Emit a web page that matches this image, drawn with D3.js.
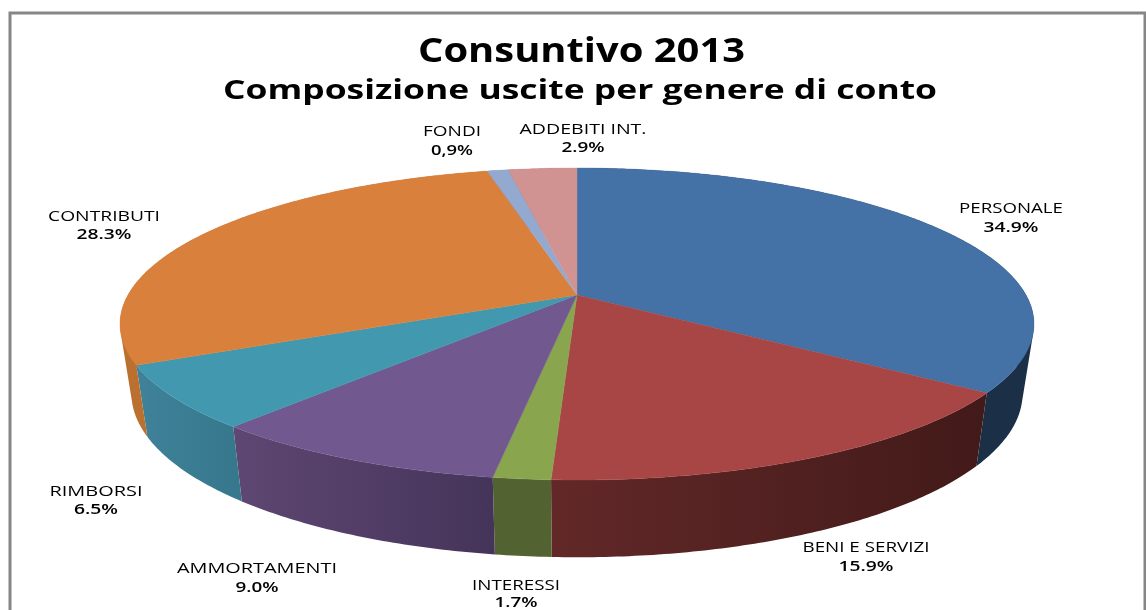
<!DOCTYPE html>
<html><head><meta charset="utf-8">
<script src="https://cdn.jsdelivr.net/npm/d3@7"></script>
<style>html,body{margin:0;padding:0;background:#fff;overflow:hidden}svg{display:block}text{font-family:"Open Sans",sans-serif;fill:#000}</style>
</head><body><svg id="c" width="1146" height="610"></svg>
<script>
const categories = ["PERSONALE","BENI E SERVIZI","INTERESSI","AMMORTAMENTI","RIMBORSI","CONTRIBUTI","FONDI","ADDEBITI INT."];
const values = [34.9,15.9,1.7,9.0,6.5,28.3,0.9,2.9];
const valueLabels = ["34.9%","15.9%","1.7%","9.0%","6.5%","28.3%","0,9%","2.9%"];
const topColors = ["#4471A6","#A74644","#89A54E","#71588F","#4198AF","#D9813C","#93A9CF","#D19392"];
const wallLeft = ["#1B2F47","#622828","#526231","#5E4772","#3F8299","#BC7030","#6f80a0","#9e6f6e"];
const wallRight = ["#1B2F47","#421A19","#526231","#45345A","#36778C","#BC7030","#6f80a0","#9e6f6e"];
const titleText = "Consuntivo 2013";
const subtitleText = "Composizione uscite per genere di conto";
// layout only: label centre x, name baseline, value baseline, name width, value width
const labelLayout = [
 [1011,213,232,104,55],[866,552,571,127,55],[516,590,607,88,43],[257,573,592,160,43],
 [96,496,514,93,44],[104,221,239,112,55],[452,136,155,58,42],[583,134,152,127,43]
];
const svg = d3.select("#c"), defs = svg.append("defs");
defs.append("filter").attr("id","soft").attr("x","-5%").attr("y","-20%").attr("width","110%").attr("height","140%")
  .append("feGaussianBlur").attr("stdDeviation",0.4);
// projection of the pie disc (perspective): apex, half-axes, foreshortening
const cx=577, cy=295, ax=449, by=150.6, k=0.186;
const project = a => { const u=Math.sin(a), v=-Math.cos(a), d=1-k*v; return [ax*u/d, by*v/d]; };
const topPt = ([x,y]) => [cx+x, cy+y];
const bottomPt = ([x,y]) => [cx+x*0.975, cy+y*1.05+68];
const slices = d3.pie().sort(null).value(d=>d).startAngle(0).endAngle(2*Math.PI)(values);
const lineGen = d3.line().curve(d3.curveLinear);
const rim = s => { const n=Math.max(2,Math.ceil((s.endAngle-s.startAngle)*90));
  return d3.range(n+1).map(i=>project(s.startAngle+(s.endAngle-s.startAngle)*i/n)); };

// frame
svg.append("rect").attr("x",10).attr("y",13).attr("width",1135).attr("height",620)
  .attr("fill","none").attr("stroke","#868686").attr("stroke-width",3);

// side walls: one path of same-winding quads, so the silhouette is filled without seams
slices.forEach((s,i)=>{
  const r=rim(s), xs=r.map(topPt).concat(r.map(bottomPt)).map(p=>p[0]);
  const g=defs.append("linearGradient").attr("id","w"+i).attr("gradientUnits","userSpaceOnUse")
    .attr("x1",d3.min(xs)).attr("x2",d3.max(xs)).attr("y1",0).attr("y2",0);
  g.append("stop").attr("offset",0).attr("stop-color",wallLeft[i]);
  g.append("stop").attr("offset",1).attr("stop-color",wallRight[i]);
  const d=d3.pairs(r).map(([a,b])=>{
    const q=[topPt(a),topPt(b),bottomPt(b),bottomPt(a)];
    if(d3.polygonArea(q)<0) q.reverse();
    return lineGen(q)+"Z";
  }).join("");
  svg.append("path").attr("d",d).attr("fill",`url(#w${i})`).attr("fill-rule","nonzero");
});
// top faces
slices.forEach((s,i)=>{
  const pts=[[cx,cy]].concat(rim(s).map(topPt));
  svg.append("path").attr("d",lineGen(pts)+"Z").attr("fill",topColors[i])
    .attr("stroke",topColors[i]).attr("stroke-width",0.4);
});
// texts
const put=(t,x,y,w,size,weight)=>svg.append("text").attr("x",x).attr("y",y).attr("text-anchor","middle")
  .attr("font-size",size).attr("font-weight",weight).attr("textLength",w).attr("lengthAdjust","spacingAndGlyphs")
  .attr("filter","url(#soft)").text(t);
put(titleText,581.5,62,327,34,700);
put(subtitleText,580,99,714,26,700);
categories.forEach((c,i)=>{
  const [x,y1,y2,w1,w2]=labelLayout[i];
  put(c,x,y1,w1,14,500);
  put(valueLabels[i],x,y2,w2,14,600);
});
</script></body></html>
